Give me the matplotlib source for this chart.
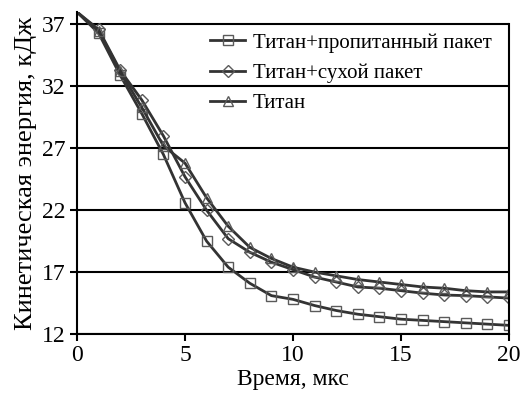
import matplotlib
matplotlib.use('Agg')
import matplotlib.pyplot as plt
import numpy as np

plt.rcParams['font.family'] = ['Liberation Serif', 'DejaVu Serif']

# time, mks
t = list(range(0, 21))

# kinetic energy, kJ
soaked = [38.0, 36.3, 32.9, 29.8, 26.5, 22.6, 19.5, 17.4, 16.1, 15.1, 14.8,
          14.3, 13.9, 13.6, 13.4, 13.2, 13.1, 13.0, 12.9, 12.8, 12.7]
dry = [38.0, 36.6, 33.3, 30.9, 28.0, 24.7, 22.0, 19.7, 18.6, 17.8, 17.2,
       16.6, 16.2, 15.8, 15.7, 15.5, 15.3, 15.15, 15.1, 15.0, 14.9]
titan = [38.0, 36.5, 33.2, 30.3, 27.2, 25.8, 23.0, 20.7, 19.0, 18.1, 17.4,
         17.0, 16.7, 16.4, 16.2, 16.0, 15.8, 15.7, 15.5, 15.4, 15.4]

labels = ['Титан+пропитанный пакет', 'Титан+сухой пакет', 'Титан']

fig = plt.figure(figsize=(5.2, 4.01), dpi=100)
ax = fig.add_axes([0.148, 0.167, 0.831, 0.803])

line_c = '#333333'
mk_c = '#5a5a5a'
for y, m, lab in zip([soaked, dry, titan], ['s', 'D', '^'], labels):
    ms = 6.5 if m != 'D' else 6
    ax.plot(t, y, color=line_c, lw=2, marker=m, markevery=range(1, 21),
            markersize=ms, markerfacecolor='none', markeredgecolor=mk_c,
            markeredgewidth=1.0, label=lab)

ax.set_xlim(0, 20)
ax.set_ylim(12, 38)
ax.set_xticks([0, 5, 10, 15, 20])
ax.set_yticks([12, 17, 22, 27, 32, 37])
ax.yaxis.grid(True, color='black', lw=1.5)
ax.set_axisbelow(True)

ax.spines['top'].set_visible(False)
ax.spines['right'].set_bounds(12, 37)
for s in ax.spines.values():
    s.set_linewidth(1.5)
ax.tick_params(direction='out', width=1.5, length=5, labelsize=17, pad=3)

ax.set_xlabel('Время, мкс', fontsize=17, labelpad=2)
ax.set_ylabel('Кинетическая энергия, кДж', fontsize=19, labelpad=4)

leg = ax.legend(loc='upper left', bbox_to_anchor=(0.404, 1 - 33 / 401),
                bbox_transform=fig.transFigure, frameon=False,
                fontsize=15, handlelength=1.7, handletextpad=0.35,
                labelspacing=0.52, borderaxespad=0, borderpad=0)

fig.savefig('out.png', dpi=100)
